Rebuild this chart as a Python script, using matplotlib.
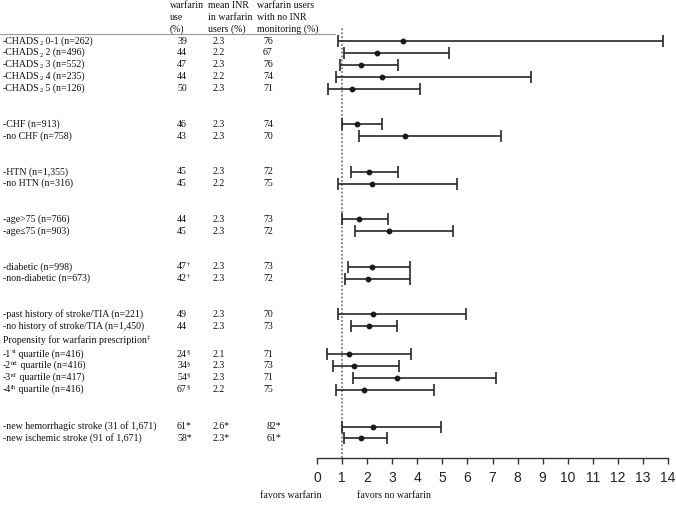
import re
import matplotlib
matplotlib.use("Agg")
import matplotlib.pyplot as plt
import matplotlib.transforms as mtransforms

plt.rcParams['font.family'] = ['Liberation Serif', 'DejaVu Serif']

# ---------------- data ----------------
# "^{...}" marks a superscript, "_{...}" a subscript
labels = [
    "-CHADS_{2} 0-1 (n=262)", "-CHADS_{2} 2 (n=496)", "-CHADS_{2} 3 (n=552)",
    "-CHADS_{2} 4 (n=235)", "-CHADS_{2} 5 (n=126)",
    "-CHF (n=913)", "-no CHF (n=758)",
    "-HTN (n=1,355)", "-no HTN (n=316)",
    "-age>75 (n=766)", "-age≤75 (n=903)",
    "-diabetic (n=998)", "-non-diabetic (n=673)",
    "-past history of stroke/TIA (n=221)", "-no history of stroke/TIA (n=1,450)",
    "-1^{st} quartile (n=416)", "-2^{nd} quartile (n=416)",
    "-3^{rd} quartile (n=417)", "-4^{th} quartile (n=416)",
    "-new hemorrhagic stroke (31 of 1,671)", "-new ischemic stroke (91 of 1,671)",
]
warfarin_use = ["39", "44", "47", "44", "50", "46", "43", "45", "45", "44", "45",
                "47^{†}", "42^{†}", "49", "44",
                "24^{§}", "34^{§}", "54^{§}", "67^{§}", "61*", "58*"]
mean_inr = ["2.3", "2.2", "2.3", "2.2", "2.3", "2.3", "2.3", "2.3", "2.2", "2.3", "2.3",
            "2.3", "2.3", "2.3", "2.3", "2.1", "2.3", "2.3", "2.2", "2.6*", "2.3*"]
no_inr_monitoring = ["76", "67", "76", "74", "71", "74", "70", "72", "75", "73", "72",
                     "73", "72", "70", "73", "71", "73", "71", "75", "82*", "61*"]
estimate = [3.44, 2.38, 1.74, 2.58, 1.38, 1.61, 3.51, 2.09, 2.19, 1.69, 2.88,
            2.18, 2.05, 2.22, 2.09, 1.29, 1.48, 3.20, 1.89, 2.22, 1.75]
ci_low = [0.85, 1.08, 0.92, 0.76, 0.45, 0.98, 1.69, 1.34, 0.85, 1.01, 1.52,
          1.25, 1.12, 0.82, 1.34, 0.40, 0.65, 1.42, 0.76, 1.01, 1.09]
ci_high = [13.8, 5.26, 3.24, 8.53, 4.10, 2.58, 7.34, 3.24, 5.57, 2.83, 5.44,
           3.71, 3.71, 5.93, 3.20, 3.73, 3.28, 7.14, 4.66, 4.93, 2.80]
x_ticks = list(range(0, 15))
header_use = ["warfarin", "use", "(%)"]
header_inr = ["mean INR", "in warfarin", "users (%)"]
header_mon = ["warfarin users", "with no INR", "monitoring (%)"]
propensity_title = "Propensity for warfarin prescription^{‡}"
favors_left = "favors warfarin"
favors_right = "favors no warfarin"

# row layout (row index positions, with blank gaps)
rows = [0, 1, 2, 3, 4, 7, 8, 11, 12, 15, 16, 19, 20, 23, 24,
        26.35, 27.35, 28.35, 29.35, 32.45, 33.45]
propensity_row = 25.2

# ---------------- figure ----------------
W, H = 676, 508
fig = plt.figure(figsize=(W / 100, H / 100), dpi=100)
ax_left, ax_right = 317 / W, 668 / W
ax_bot, ax_top = 1 - 458 / H, 1 - 27 / H
ax = fig.add_axes([ax_left, ax_bot, ax_right - ax_left, ax_top - ax_bot])
ax.set_xlim(0, 14)
ax.set_ylim(35.1, -1.18)

# reference line
ax.axvline(1, color='#8c8c8c', lw=1.4, ls=(0, (1, 1)), zorder=1)

# error bars
xerr = [[e - l for e, l in zip(estimate, ci_low)], [h - e for e, h in zip(estimate, ci_high)]]
ax.errorbar(estimate, rows, xerr=xerr, fmt='o', color='#1a1a1a', ecolor='#262626',
            elinewidth=1.2, capsize=4, capthick=1.2, markersize=3.2, zorder=3,
            clip_on=False)

for s in ['left', 'right', 'top']:
    ax.spines[s].set_visible(False)
ax.spines['bottom'].set_color('#333333')
ax.spines['bottom'].set_linewidth(1.0)
ax.set_yticks([])
ax.set_xticks(x_ticks)
ax.set_xticklabels([str(t) for t in x_ticks], fontfamily='Liberation Sans', fontsize=10,
                   color='#222222')
ax.tick_params(axis='x', direction='out', length=4, width=1.0, color='#333333', pad=5)

# ---------------- text table ----------------
tr = mtransforms.blended_transform_factory(fig.transFigure, ax.transData)
fs = 7.1
TXT = '#111111'


def rich_text(x, y, s, size=fs):
    """Draw text with ^{...} superscripts / _{...} subscripts as small separate texts."""
    parts = re.split(r'([\^_])\{([^}]*)\}', s)
    base = ax.text(x, y, parts[0], transform=tr, fontsize=size, va='center',
                   ha='left', color=TXT)
    prev = base
    i = 1
    while i < len(parts):
        kind, small, rest = parts[i], parts[i + 1], parts[i + 2]
        yfrac = 0.5 if kind == '^' else -0.02
        prev = ax.annotate(small, xy=(1, yfrac), xycoords=(prev, base),
                           fontsize=size * 0.68, va='bottom', ha='left', color=TXT)
        if rest:
            prev = ax.annotate(rest, xy=(1, 0), xycoords=(prev, base),
                               fontsize=size, va='bottom', ha='left', color=TXT)
        i += 3
    return base


label_x = 3 / W
col_x = [177 / W, 213 / W, 263 / W]
head_x = [170 / W, 208 / W, 257 / W]

for r, lab, u, m, n in zip(rows, labels, warfarin_use, mean_inr, no_inr_monitoring):
    rich_text(label_x, r, lab)
    rich_text(col_x[0], r, u)
    rich_text(col_x[1], r, m)
    nx = col_x[2] + (4 / W if '*' in n else 0)
    rich_text(nx, r, n)

rich_text(label_x, propensity_row, propensity_title)

for i in range(3):
    yr = -3 + i
    ax.text(head_x[0], yr, header_use[i], transform=tr, fontsize=fs, va='center', ha='left', color=TXT)
    ax.text(head_x[1], yr, header_inr[i], transform=tr, fontsize=fs, va='center', ha='left', color=TXT)
    ax.text(head_x[2], yr, header_mon[i], transform=tr, fontsize=fs, va='center', ha='left', color=TXT)

# header underline
ax.plot([0, 335 / W], [-0.6, -0.6], transform=tr, color='#9a9a9a', lw=0.8, clip_on=False)

# favors labels
fig.text(322 / W, 1 - 495 / H, favors_left, fontsize=7.1, ha='right', va='center', color=TXT)
fig.text(357 / W, 1 - 495 / H, favors_right, fontsize=7.1, ha='left', va='center', color=TXT)

fig.savefig("out.png", dpi=100)
